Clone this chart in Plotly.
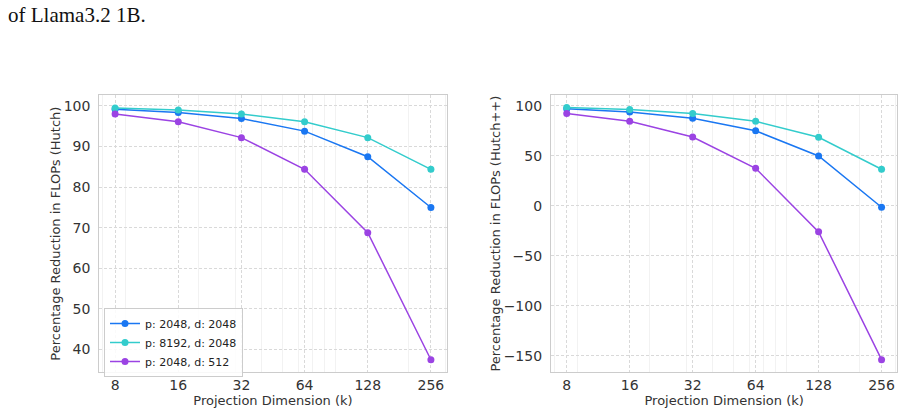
import plotly.graph_objects as go
import math

# ---- data ----
k_values = [8, 16, 32, 64, 128, 256]
k_labels = ["8", "16", "32", "64", "128", "256"]
series_names = ["p: 2048, d: 2048", "p: 8192, d: 2048", "p: 2048, d: 512"]
hutch_p2048_d2048 = [99.2, 98.4, 96.9, 93.8, 87.5, 75.0]
hutch_p8192_d2048 = [99.5, 99.0, 98.0, 96.1, 92.2, 84.4]
hutch_p2048_d512 = [98.0, 96.1, 92.2, 84.4, 68.8, 37.5]
hutchpp_p2048_d2048 = [96.9, 93.7, 87.4, 74.8, 49.6, -1.6]
hutchpp_p8192_d2048 = [98.0, 96.0, 92.1, 84.3, 68.4, 36.4]
hutchpp_p2048_d512 = [92.2, 84.4, 68.6, 37.3, -26.2, -154.0]
left_yticks = [40, 50, 60, 70, 80, 90, 100]
right_yticks = [-150, -100, -50, 0, 50, 100]
minor_x = [7, 9, 20, 30, 40, 50, 60, 70, 80, 90, 200, 300]

colors = ["#1a77f2", "#33cccc", "#9b43e3"]

W, H = 904, 414
def px(x):
    return x / W
def py(y):
    return (H - y) / H

fig = go.Figure()
left_series = [hutch_p2048_d2048, hutch_p8192_d2048, hutch_p2048_d512]
right_series = [hutchpp_p2048_d2048, hutchpp_p8192_d2048, hutchpp_p2048_d512]
for name, vals, c in zip(series_names, left_series, colors):
    fig.add_trace(go.Scatter(x=k_values, y=vals, name=name, mode="lines+markers",
                             line=dict(color=c, width=1.5), marker=dict(color=c, size=7),
                             xaxis="x", yaxis="y", showlegend=True))
for name, vals, c in zip(series_names, right_series, colors):
    fig.add_trace(go.Scatter(x=k_values, y=vals, name=name, mode="lines+markers",
                             line=dict(color=c, width=1.5), marker=dict(color=c, size=7),
                             xaxis="x2", yaxis="y2", showlegend=False))

xr = [math.log10(2 ** 2.75), math.log10(2 ** 8.25)]
font = "DejaVu Sans"
grid = "#d9d9d9"
spine = "#cccccc"
txt = "#333333"

def xaxis(domain, anchor):
    return dict(domain=domain, anchor=anchor, type="log", range=xr,
                tickmode="array", tickvals=k_values, ticktext=k_labels,
                showgrid=True, gridcolor=grid, griddash="3px,2px", gridwidth=0.8,
                minor=dict(tickmode="array", tickvals=minor_x, showgrid=True,
                           gridcolor="#f2f2f2", gridwidth=0.6, griddash="solid", ticks=""),
                showline=True, linecolor=spine, linewidth=1.2, mirror=True,
                ticks="", ticklabelstandoff=0, zeroline=False,
                tickfont=dict(family=font, size=14, color=txt),
                title=dict(text="Projection Dimension (k)", standoff=0,
                           font=dict(family=font, size=13, color=txt)))

def yaxis(domain, anchor, rng, ticks, title):
    return dict(domain=domain, anchor=anchor, range=rng,
                tickmode="array", tickvals=ticks,
                showgrid=True, gridcolor=grid, griddash="3px,2px", gridwidth=0.8,
                showline=True, linecolor=spine, linewidth=1.2, mirror=True,
                ticks="", ticklabelstandoff=5, zeroline=False,
                tickfont=dict(family=font, size=14, color=txt),
                title=dict(text=title, standoff=0,
                           font=dict(family=font, size=13, color=txt)))

ydom = [py(372.3), py(95)]
fig.update_layout(
    width=W, height=H, margin=dict(l=0, r=0, t=0, b=0),
    paper_bgcolor="white", plot_bgcolor="white",
    xaxis=xaxis([px(99.3), px(446.7)], "y"),
    yaxis=yaxis(ydom, "x", [34.4, 102.7], left_yticks,
                "Percentage Reduction in FLOPs (Hutch)"),
    xaxis2=xaxis([px(551), px(897.3)], "y2"),
    yaxis2=yaxis(ydom, "x2", [-166.6, 110.6], right_yticks,
                 "Percentage Reduction in FLOPs (Hutch++)"),
    legend=dict(x=px(104), y=py(308), xanchor="left", yanchor="top",
                bgcolor="rgba(255,255,255,0.85)", bordercolor=spine, borderwidth=1,
                font=dict(family=font, size=11, color="#222222"),
                itemwidth=30, tracegroupgap=0),
    annotations=[dict(text="of Llama3.2 1B.", x=px(6), y=py(15), xref="paper", yref="paper",
                      xanchor="left", yanchor="middle", showarrow=False,
                      font=dict(family="Liberation Serif", size=21, color="#111111"))],
)

fig.write_html("out.html")
